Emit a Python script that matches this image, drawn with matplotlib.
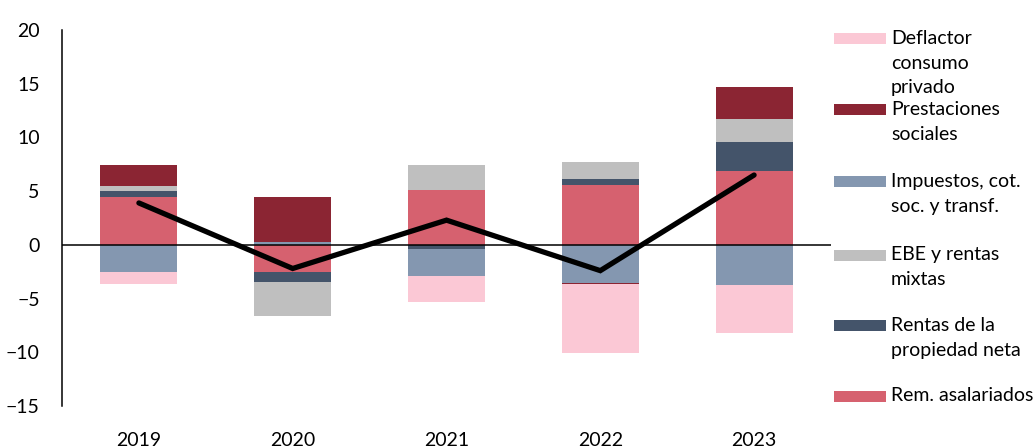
import matplotlib
matplotlib.use("Agg")
import matplotlib.pyplot as plt
from matplotlib.patches import Rectangle
import numpy as np

plt.rcParams['font.family'] = ['Lato', 'DejaVu Sans']

years = ["2019", "2020", "2021", "2022", "2023"]
series_names = ["Rem. asalariados", "Rentas de la\npropiedad neta", "EBE y rentas\nmixtas",
                "Impuestos, cot.\nsoc. y transf.", "Prestaciones\nsociales",
                "Deflactor\nconsumo\nprivado"]
rem = [4.5, -2.5, 5.1, 5.55, 6.85]
rentas = [0.55, -1.0, -0.35, 0.6, 2.75]
ebe = [0.45, -3.1, 2.35, 1.6, 2.15]
impuestos = [-2.55, 0.25, -2.55, -3.55, -3.7]
prestaciones = [1.9, 4.2, 0.0, -0.12, 2.9]
deflactor = [-1.1, 0.0, -2.4, -6.4, -4.5]
total = [3.9, -2.2, 2.3, -2.4, 6.5]

colors = ["#D6616F", "#44546A", "#BFBFBF", "#8497B0", "#8B2533", "#FBC8D5"]
data = [rem, rentas, ebe, impuestos, prestaciones, deflactor]

W, H = 1035, 448
fig = plt.figure(figsize=(W / 100, H / 100), dpi=100)
ax_l, ax_r, ax_t, ax_b = 62, 831, 30, 406
ax = fig.add_axes([ax_l / W, 1 - ax_b / H, (ax_r - ax_l) / W, (ax_b - ax_t) / H])

x = np.arange(len(years))
pos_base = np.zeros(len(years))
neg_base = np.zeros(len(years))
for vals, c in zip(data, colors):
    v = np.array(vals, dtype=float)
    base = np.where(v >= 0, pos_base, neg_base)
    ax.bar(x, v, width=0.5, bottom=base, color=c, edgecolor='none', zorder=2)
    pos_base = pos_base + np.where(v > 0, v, 0)
    neg_base = neg_base + np.where(v < 0, v, 0)

ax.axhline(0, color='black', lw=1.1, zorder=3)
ax.plot(x, total, color='black', lw=3.8, solid_capstyle='round', solid_joinstyle='miter', zorder=4)

ax.set_xlim(-0.5, 4.5)
ax.set_ylim(-15, 20)
ax.set_yticks(np.arange(-15, 21, 5))
ax.set_xticks(x)
ax.set_xticklabels(years)
for s in ['top', 'right', 'bottom']:
    ax.spines[s].set_visible(False)
ax.spines['left'].set_linewidth(1.1)
ax.tick_params(axis='y', length=0, pad=16, labelsize=14)
ax.tick_params(axis='x', length=0, pad=19, labelsize=14)

# legend (manual, top to bottom)
legend_y = [39, 110, 182, 255, 326, 396]
order = [5, 4, 3, 2, 1, 0]
for yc, i in zip(legend_y, order):
    fig.add_artist(Rectangle((834 / W, 1 - (yc + 5.5) / H), 52 / W, 11 / H,
                             transform=fig.transFigure, facecolor=colors[i], edgecolor='none'))
    fig.text(891 / W, 1 - (yc - 9) / H, series_names[i], ha='left', va='top',
             fontsize=14, linespacing=1.55)

fig.savefig("out.png", dpi=100)
